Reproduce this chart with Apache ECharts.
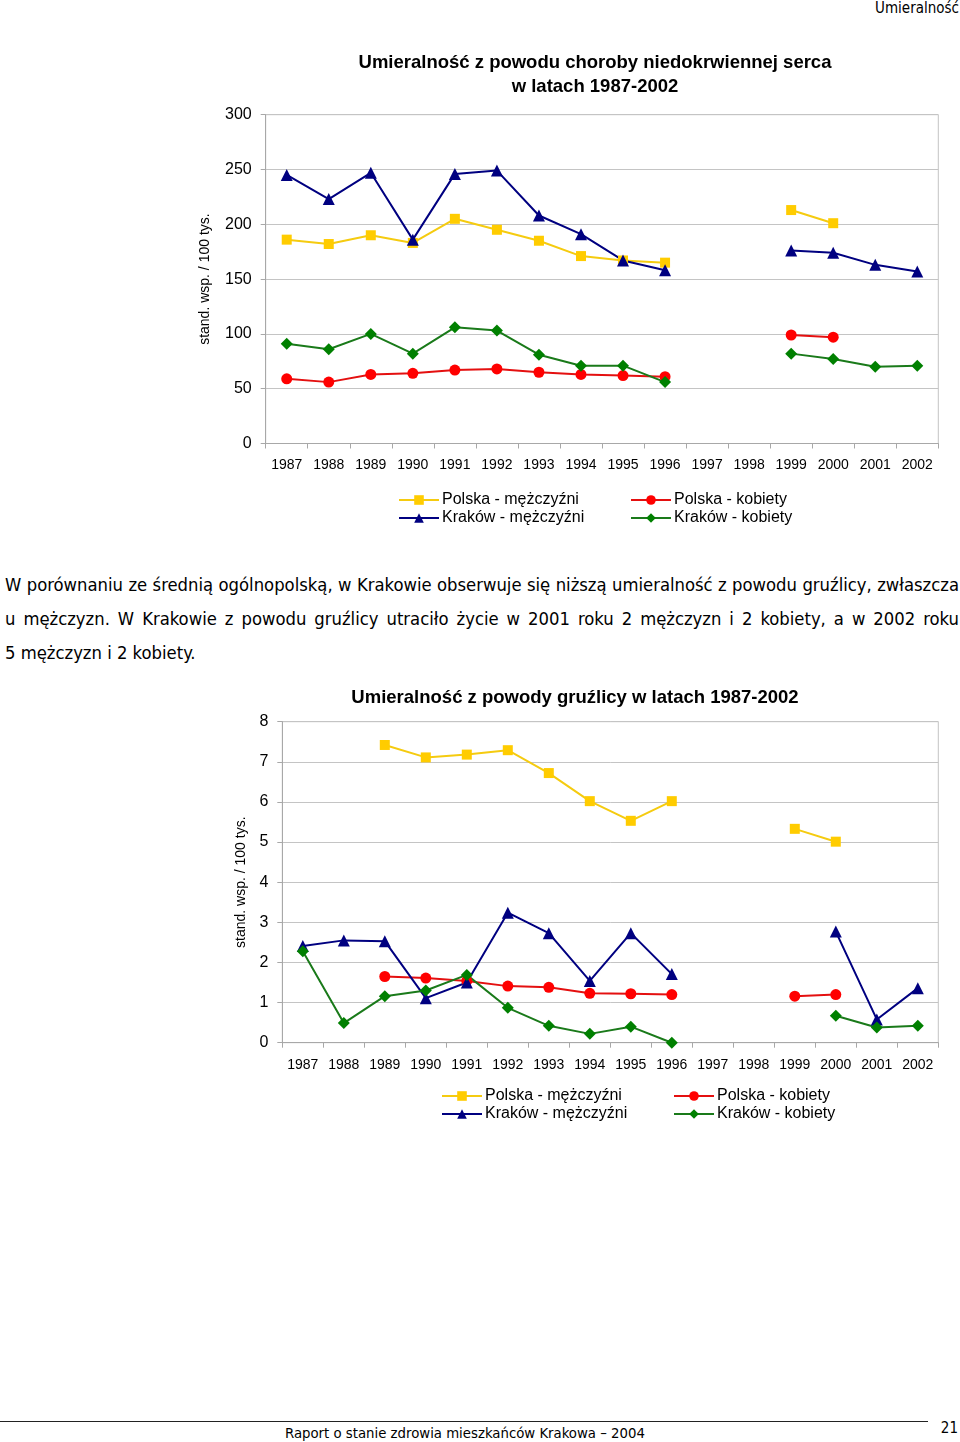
<!DOCTYPE html>
<html><head><meta charset="utf-8">
<script src="https://cdn.jsdelivr.net/npm/echarts@6/dist/echarts.min.js"></script>
<style>
html,body{margin:0;padding:0;background:#fff;}
#page{position:relative;width:960px;height:1442px;overflow:hidden;background:#fff;}
#c1{position:absolute;left:0;top:0;width:960px;height:545px;}
#c2{position:absolute;left:0;top:680px;width:960px;height:460px;}
.hdr{position:absolute;right:1px;top:0px;font-family:'Liberation Sans Narrow','Arial Narrow','DejaVu Sans Condensed',sans-serif;font-size:15px;line-height:16px;color:#000;}
.para{position:absolute;left:5px;top:568px;width:954px;font-family:'DejaVu Sans Condensed','DejaVu Sans',sans-serif;line-height:34px;color:#000;}
.para div{white-space:nowrap;}
.j{text-align:justify;text-align-last:justify;white-space:normal !important;}
.fline{position:absolute;left:0;top:1421px;width:928px;height:0;border-top:1px solid #222;}
.foot{position:absolute;left:285px;top:1423px;font-family:'DejaVu Sans Condensed','DejaVu Sans',sans-serif;line-height:20px;color:#000;white-space:nowrap;}
.pnum{position:absolute;right:2px;top:1418px;font-family:'DejaVu Sans Condensed','DejaVu Sans',sans-serif;font-size:15px;line-height:20px;color:#000;}
</style></head>
<body><div id="page">
<div class="hdr">Umieralność</div>
<div id="c1"></div>
<div class="para" id="para">
<div class="j" id="l1">W porównaniu ze średnią ogólnopolską, w Krakowie obserwuje się niższą umieralność z powodu gruźlicy, zwłaszcza</div>
<div class="j" id="l2">u mężczyzn. W Krakowie z powodu gruźlicy utraciło życie w 2001 roku 2 mężczyzn i 2 kobiety, a w 2002 roku</div>
<div id="l3">5 mężczyzn i 2 kobiety.</div>
</div>
<div id="c2"></div>
<div class="fline"></div>
<div class="foot" id="foot">Raport o stanie zdrowia mieszkańców Krakowa – 2004</div>
<div class="pnum">21</div>
</div>
<script>
// ---- data ----
const years = ['1987','1988','1989','1990','1991','1992','1993','1994','1995','1996','1997','1998','1999','2000','2001','2002'];
const seriesNames = ['Polska - mężczyźni','Polska - kobiety','Kraków - mężczyźni','Kraków - kobiety'];

// Chart 1: choroba niedokrwienna serca
const heartPolskaM = [186, 182, 190, 183, 205, 195, 185, 171, 167, 165, null, null, 213, 201, null, null];
const heartPolskaK = [59, 56, 63, 64, 67, 68, 65, 63, 62, 61, null, null, 99, 97, null, null];
const heartKrakowM = [245, 223, 247, 186, 246, 249, 208, 191, 167, 158, null, null, 176, 174, 163, 157];
const heartKrakowK = [91, 86, 100, 82, 106, 103, 81, 71, 71, 56, null, null, 82, 77, 70, 71];

// Chart 2: gruźlica
const tbPolskaM = [null, null, 7.42, 7.11, 7.18, 7.29, 6.72, 6.02, 5.53, 6.02, null, null, 5.33, 5.01, null, null];
const tbPolskaK = [null, null, 1.65, 1.61, 1.54, 1.41, 1.38, 1.23, 1.22, 1.20, null, null, 1.16, 1.20, null, null];
const tbKrakowM = [2.41, 2.55, 2.53, 1.11, 1.50, 3.24, 2.73, 1.54, 2.73, 1.71, null, null, null, 2.77, 0.58, 1.36];
const tbKrakowK = [2.28, 0.49, 1.16, 1.30, 1.69, 0.87, 0.42, 0.22, 0.40, 0.00, null, null, null, 0.67, 0.38, 0.42];

const title1 = 'Umieralność z powodu choroby niedokrwiennej serca\nw latach 1987-2002';
const title2 = 'Umieralność z powody gruźlicy w latach 1987-2002';
const yName = 'stand. wsp. / 100 tys.';

// ---- styles ----
const FONT = "'Liberation Sans', Arial, sans-serif";
const styles = {
  'Polska - mężczyźni': {color:'#FFCC00', line:'#F5CB10', symbol:'rect', size:10},
  'Polska - kobiety':   {color:'#FF0000', line:'#E41010', symbol:'circle', size:11},
  'Kraków - mężczyźni': {color:'#000080', line:'#000080', symbol:'triangle', size:12},
  'Kraków - kobiety':   {color:'#008000', line:'#1A7A1A', symbol:'diamond', size:12}
};

function mkSeries(name, data){
  const s = styles[name];
  return {
    name, type:'line', data, symbol:s.symbol, symbolSize:s.size,
    connectNulls:false, animation:false,
    itemStyle:{color:s.color},
    lineStyle:{color:s.line, width:2},
    emphasis:{disabled:true}
  };
}

function mkLegend(names, left, top){
  return {
    data:names, orient:'vertical', left, top, itemGap:0,
    itemWidth:40, itemHeight:12, selectedMode:false,
    textStyle:{fontFamily:FONT, fontSize:16, color:'#000', lineHeight:18, padding:[0,0,0,-2]},
    padding:0
  };
}

function mkOption(c){
  return {
    animation:false,
    title:{text:c.title, left:c.titleX, top:c.titleTop, textAlign:'center',
      textStyle:{fontFamily:FONT, fontSize:18.5, fontWeight:'bold', color:'#000', lineHeight:24}},
    legend:[mkLegend(['Polska - mężczyźni','Kraków - mężczyźni'], c.leg1, c.legTop),
            mkLegend(['Polska - kobiety','Kraków - kobiety'], c.leg2, c.legTop)],
    grid:{left:c.gl, right:c.gr, top:c.gt, height:c.gh, show:true, borderColor:'#c4c4c4', borderWidth:1},
    xAxis:{type:'category', data:years, boundaryGap:true,
      axisLine:{lineStyle:{color:'#a8a8a8'}},
      axisTick:{show:true, length:5, alignWithLabel:false, lineStyle:{color:'#a8a8a8'}},
      axisLabel:{interval:0, margin:c.xm, fontFamily:FONT, fontSize:14, color:'#000'}},
    yAxis:{type:'value', min:c.min, max:c.max, interval:c.interval,
      name:yName, nameLocation:'middle', nameRotate:90, nameGap:c.nameGap,
      nameTextStyle:{fontFamily:FONT, fontSize:14, color:'#000'},
      axisLine:{show:true, lineStyle:{color:'#a8a8a8'}},
      axisTick:{show:true, length:5, lineStyle:{color:'#a8a8a8'}},
      splitLine:{lineStyle:{color:'#c4c4c4'}},
      axisLabel:{margin:14, fontFamily:FONT, fontSize:16, color:'#000'}},
    series:c.series
  };
}

const ch1 = echarts.init(document.getElementById('c1'), null, {renderer:'canvas'});
ch1.setOption(mkOption({
  title:title1, titleX:590, titleTop:46,
  leg1:398, leg2:630, legTop:491,
  gl:265.7, gr:21.7, gt:114.7, gh:328.8, xm:15,
  min:0, max:300, interval:50, nameGap:54,
  series:[mkSeries('Polska - mężczyźni', heartPolskaM), mkSeries('Polska - kobiety', heartPolskaK),
          mkSeries('Kraków - mężczyźni', heartKrakowM), mkSeries('Kraków - kobiety', heartKrakowK)]
}));

const ch2 = echarts.init(document.getElementById('c2'), null, {renderer:'canvas'});
ch2.setOption(mkOption({
  title:title2, titleX:570, titleTop:1,
  leg1:441, leg2:673, legTop:407,
  gl:282.3, gr:21.7, gt:41.7, gh:321, xm:15,
  min:0, max:8, interval:1, nameGap:34,
  series:[mkSeries('Polska - mężczyźni', tbPolskaM), mkSeries('Polska - kobiety', tbPolskaK),
          mkSeries('Kraków - mężczyźni', tbKrakowM), mkSeries('Kraków - kobiety', tbKrakowK)]
}));

// fit text font sizes to the reference widths
function fit(el, target, fam){
  const cv = document.createElement('canvas').getContext('2d');
  cv.font = '100px ' + fam;
  const w = cv.measureText(el.textContent).width;
  return 100 * target / w;
}
const pfam = "'DejaVu Sans Condensed','DejaVu Sans',sans-serif";
let ps = fit(document.getElementById('l3'), 191, pfam);
const ps1 = fit(document.getElementById('l1'), 952, pfam);
ps = Math.min(ps, ps1);
document.getElementById('para').style.fontSize = ps + 'px';
document.getElementById('foot').style.fontSize = fit(document.getElementById('foot'), 360, pfam) + 'px';
</script>
</body></html>
